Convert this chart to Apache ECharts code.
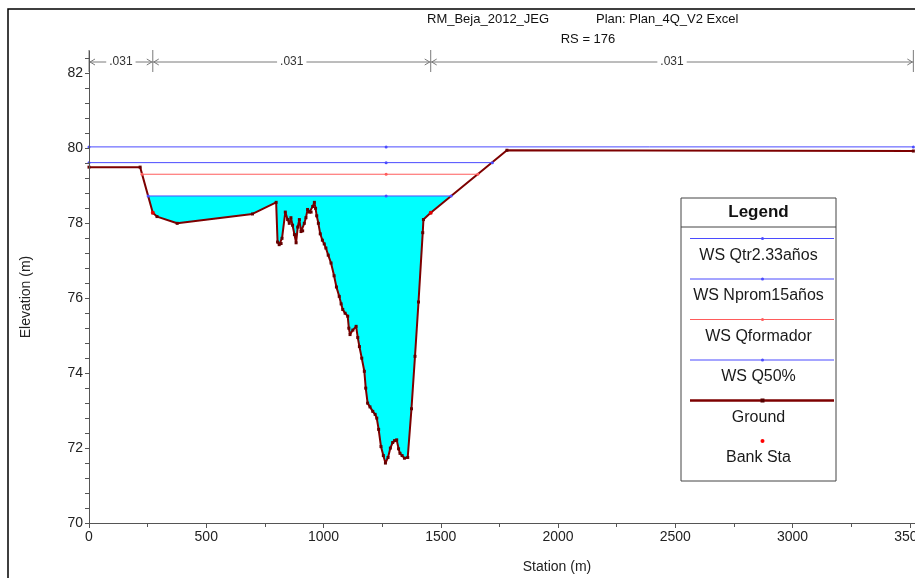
<!DOCTYPE html>
<html><head><meta charset="utf-8">
<script src="https://cdn.jsdelivr.net/npm/echarts@6/dist/echarts.min.js"></script>
<style>html,body{margin:0;padding:0;background:#fff}#c{width:915px;height:578px}</style>
</head><body><div id="c"></div>
<script>
// ---- data ----
const groundStation = [0,218,272,290,376,697,798,804,811,819,823,837,847,854,861,868,876,883,890,897,904,911,918,925,932,940,947,954,961,966,971,978,986,995,1003,1010,1020,1032,1045,1055,1067,1075,1082,1092,1103,1108,1113,1125,1139,1146,1153,1163,1174,1180,1188,1198,1210,1220,1227,1235,1245,1255,1264,1275,1285,1295,1303,1312,1320,1326,1335,1345,1359,1375,1390,1405,1423,1426,1457,1782,3515];
const groundElev =    [79.50,79.50,78.28,78.18,78.00,78.25,78.56,77.50,77.43,77.46,77.60,78.30,78.10,78.00,78.15,77.95,77.70,77.48,77.90,78.10,77.78,77.80,78.00,78.15,78.37,78.30,78.30,78.45,78.56,78.40,78.20,78.00,77.72,77.55,77.45,77.34,77.15,76.94,76.60,76.30,76.05,75.85,75.70,75.60,75.52,75.20,75.03,75.15,75.25,74.95,74.71,74.40,74.05,73.60,73.20,73.10,72.98,72.90,72.80,72.50,72.04,71.80,71.60,71.75,72.00,72.15,72.20,72.22,71.98,71.86,71.80,71.73,71.75,73.05,74.45,75.90,77.75,78.10,78.28,79.95,79.93];
const bankStation = [272, 1457];
const bankElev = [78.28, 78.28];
const nBoundaries = [0, 272, 1457, 3515];
const nValues = ['.031', '.031', '.031'];
const wsNames = ['WS Qtr2.33años', 'WS Nprom15años', 'WS Qformador', 'WS Q50%'];
const wsElev = [80.04, 79.62, 79.31, 78.73];
const wsStart = [0, 0, 226, 252];
const wsEnd = [3515, 1720, 1658, 1544];
const wsMarkStation = 1267;
const filledWs = 3; // WS Q50% is drawn with water fill
const titleLeft = 'RM_Beja_2012_JEG';
const titleRight = 'Plan: Plan_4Q_V2 Excel';
const subTitle = 'RS = 176';
const xName = 'Station (m)';
const yName = 'Elevation (m)';

// ---- styles ----
const FONT = 'Liberation Sans, Arial, sans-serif';
const wsColors = ['#4b4bff', '#4b4bff', '#ff5b5b', '#4b4bff'];
const groundColor = '#7d0000';
const bankColor = '#ff0000';

const chart = echarts.init(document.getElementById('c'), null, {renderer: 'canvas'});

const series = [];
// water fill (under WS Q50%)
series.push({
  type: 'line', name: 'fill', silent: true, z: 1,
  data: [[wsStart[filledWs], wsElev[filledWs]], [wsEnd[filledWs], wsElev[filledWs]]],
  symbol: 'none', lineStyle: {width: 0},
  areaStyle: {color: '#00ffff', opacity: 1, origin: 'start'}
});
// ground with white mask below
series.push({
  type: 'line', name: 'Ground', z: 3,
  data: groundStation.map((s, i) => [s, groundElev[i]]),
  symbol: 'rect', symbolSize: 3,
  itemStyle: {color: '#660000'},
  lineStyle: {color: groundColor, width: 2},
  areaStyle: {color: '#ffffff', opacity: 1, origin: 'start'}
});
// water surfaces
wsNames.forEach((nm, i) => {
  series.push({
    type: 'line', name: nm, z: 4,
    data: [[wsStart[i], wsElev[i]], [wsMarkStation, wsElev[i]], [wsEnd[i], wsElev[i]]],
    symbol: 'circle', symbolSize: 3, showAllSymbol: true,
    itemStyle: {color: wsColors[i]},
    lineStyle: {color: wsColors[i], width: 1}
  });
});
// bank stations
series.push({
  type: 'scatter', name: 'Bank Sta', z: 5,
  data: bankStation.map((s, i) => [s, bankElev[i]]),
  symbol: 'circle', symbolSize: 4,
  itemStyle: {color: bankColor}
});
// Manning's n annotation
const nSegs = nValues.map((v, i) => [nBoundaries[i], nBoundaries[i + 1]]);
series.push({
  type: 'custom', name: 'n', z: 6, clip: false, silent: true,
  data: nSegs,
  encode: {x: [0, 1]},
  renderItem: function (params, api) {
    const i = params.dataIndex;
    const xa = api.coord([api.value(0), 80])[0];
    const xb = api.coord([api.value(1), 80])[0];
    const top = params.coordSys.y - 1;
    const y = top + 12;
    const st = {stroke: '#7a7a7a', lineWidth: 1, fill: null};
    const ch = [];
    ch.push({type: 'line', shape: {x1: xa, y1: top, x2: xa, y2: top + 22}, style: st});
    if (i === nSegs.length - 1) ch.push({type: 'line', shape: {x1: xb, y1: top, x2: xb, y2: top + 22}, style: st});
    ch.push({type: 'line', shape: {x1: xa, y1: y, x2: xb, y2: y}, style: st});
    ch.push({type: 'polyline', shape: {points: [[xa + 6, y - 3], [xa + 1, y], [xa + 6, y + 3]]}, style: st});
    ch.push({type: 'polyline', shape: {points: [[xb - 6, y - 3], [xb - 1, y], [xb - 6, y + 3]]}, style: st});
    ch.push({type: 'text', x: (xa + xb) / 2, y: y, style: {text: nValues[i], fill: '#333', font: '12px ' + FONT, align: 'center', verticalAlign: 'middle', backgroundColor: '#fff', padding: [0, 3]}});
    return {type: 'group', children: ch};
  }
});

// legend graphic
const lgX = 681, lgY = 198, lgW = 155, lgH = 283;
const ZL = 100;
const lgItems = [];
lgItems.push({type: 'rect', z: ZL, shape: {x: lgX, y: lgY, width: lgW, height: lgH}, style: {fill: '#fff', stroke: '#444', lineWidth: 1}});
lgItems.push({type: 'line', z: ZL + 1, shape: {x1: lgX, y1: lgY + 29, x2: lgX + lgW, y2: lgY + 29}, style: {stroke: '#444', lineWidth: 1}});
lgItems.push({type: 'text', z: ZL + 1, x: lgX + lgW / 2, y: lgY + 14, style: {text: 'Legend', font: 'bold 17px ' + FONT, fill: '#111', align: 'center', verticalAlign: 'middle'}});
const lgNames = wsNames.concat(['Ground', 'Bank Sta']);
lgNames.forEach((nm, k) => {
  const ly = lgY + 40.5 + k * 40.5;
  const cx = lgX + lgW / 2 + 4;
  if (k < wsNames.length) {
    lgItems.push({type: 'line', z: ZL + 1, shape: {x1: lgX + 9, y1: ly, x2: lgX + lgW - 2, y2: ly}, style: {stroke: wsColors[k], lineWidth: 1}});
    lgItems.push({type: 'circle', z: ZL + 2, shape: {cx: cx, cy: ly, r: 1.5}, style: {fill: wsColors[k]}});
  } else if (nm === 'Ground') {
    lgItems.push({type: 'line', z: ZL + 1, shape: {x1: lgX + 9, y1: ly, x2: lgX + lgW - 2, y2: ly}, style: {stroke: groundColor, lineWidth: 2.5}});
    lgItems.push({type: 'rect', z: ZL + 2, shape: {x: cx - 2, y: ly - 2, width: 4, height: 4}, style: {fill: '#550000'}});
  } else {
    lgItems.push({type: 'circle', z: ZL + 2, shape: {cx: cx, cy: ly, r: 2}, style: {fill: bankColor}});
  }
  lgItems.push({type: 'text', z: ZL + 1, x: lgX + lgW / 2, y: ly + 17, style: {text: nm, font: '16px ' + FONT, fill: '#1a1a1a', align: 'center', verticalAlign: 'middle'}});
});

const option = {
  animation: false,
  backgroundColor: '#fff',
  grid: {left: 89, top: 51, right: 0, bottom: 55, containLabel: false, outerBoundsMode: 'none'},
  xAxis: {
    type: 'value', min: 0, max: 3522, interval: 500, z: 8,
    axisLine: {lineStyle: {color: '#555', width: 1}},
    axisTick: {show: true, length: 5, lineStyle: {color: '#555'}},
    minorTick: {show: true, splitNumber: 2, length: 4, lineStyle: {color: '#555'}},
    axisLabel: {fontFamily: FONT, fontSize: 14, color: '#222', margin: 7, showMaxLabel: false,
      formatter: function (v) { return (v % 500 === 0) ? String(v) : ''; }},
    splitLine: {show: false}
  },
  yAxis: {
    type: 'value', min: 70, max: 82.6, interval: 0.4, z: 8,
    axisLine: {show: true, lineStyle: {color: '#555', width: 1}},
    axisTick: {show: true, length: 4, lineStyle: {color: '#555'}},
    axisLabel: {fontFamily: FONT, fontSize: 14, color: '#222', margin: 6, showMaxLabel: false,
      formatter: function (v) { const r = Math.round(v); return (Math.abs(v - r) < 1e-6 && r % 2 === 0) ? String(r) : ''; }},
    splitLine: {show: false}
  },
  series: series,
  graphic: [
    {type: 'rect', shape: {x: 8, y: 9, width: 1200, height: 800}, style: {fill: null, stroke: '#000', lineWidth: 1.5}, z: ZL, silent: true},
    {type: 'text', x: 427, y: 19, style: {text: titleLeft, font: '13px ' + FONT, fill: '#111', verticalAlign: 'middle'}, z: ZL},
    {type: 'text', x: 596, y: 19, style: {text: titleRight, font: '13px ' + FONT, fill: '#111', verticalAlign: 'middle'}, z: ZL},
    {type: 'text', x: 588, y: 39, style: {text: subTitle, font: '13px ' + FONT, fill: '#111', align: 'center', verticalAlign: 'middle'}, z: ZL},
    {type: 'text', x: 26, y: 297, rotation: Math.PI / 2, style: {text: yName, font: '14px ' + FONT, fill: '#222', align: 'center', verticalAlign: 'middle'}, z: ZL},
    {type: 'text', x: 557, y: 567, style: {text: xName, font: '14px ' + FONT, fill: '#222', align: 'center', verticalAlign: 'middle'}, z: ZL},
    {type: 'group', z: ZL, children: lgItems}
  ]
};
chart.setOption(option);
</script></body></html>
